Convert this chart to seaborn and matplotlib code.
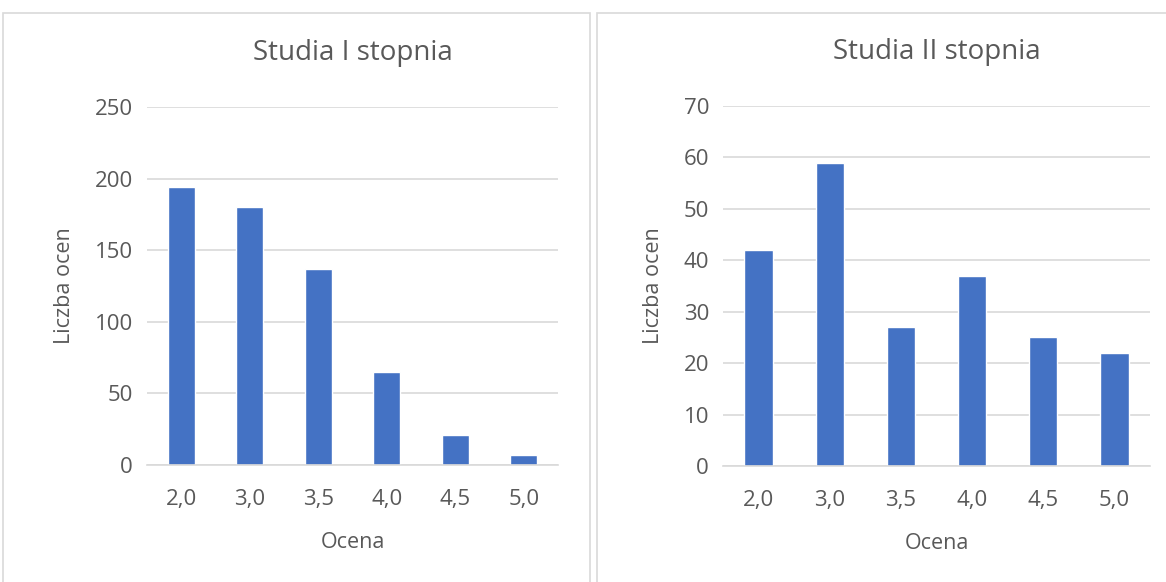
import matplotlib
matplotlib.use("Agg")
import matplotlib.pyplot as plt
import seaborn as sns
from matplotlib.patches import Rectangle

grades = ["2,0", "3,0", "3,5", "4,0", "4,5", "5,0"]
first_deg = [194, 180, 137, 65, 21, 7]
second_deg = [42, 59, 27, 37, 25, 22]
titles = ["Studia I stopnia", "Studia II stopnia"]

sns.set_style("white")
plt.rcParams["font.family"] = ["Open Sans", "DejaVu Sans"]
txt = "#595959"
grid = "#d9d9d9"
blue = "#4472C4"

fig = plt.figure(figsize=(11.66, 5.82), dpi=100)

# panel frames like excel chart areas
for x0, x1 in [(3, 590), (597, 1168)]:
    fig.patches.append(Rectangle((x0 / 1166, -0.01), (x1 - x0) / 1166, 1 - 13 / 582 + 0.01,
                                 transform=fig.transFigure, fill=False,
                                 edgecolor=grid, lw=1.2))

ax1 = fig.add_axes([147 / 1166, 1 - 465 / 582, 411 / 1166, 358 / 582])
ax2 = fig.add_axes([723 / 1166, 1 - 466 / 582, 427 / 1166, 360 / 582])

for ax, vals, title, ymax, step in [(ax1, first_deg, titles[0], 250, 50),
                                      (ax2, second_deg, titles[1], 70, 10)]:
    sns.barplot(x=grades, y=vals, ax=ax, color=blue, width=0.4, saturation=1)
    ax.set_ylim(0, ymax)
    ax.set_yticks(range(0, ymax + 1, step))
    ax.yaxis.grid(True, color=grid, lw=1.2)
    ax.set_axisbelow(True)
    for s in ["top", "right", "left"]:
        ax.spines[s].set_visible(False)
    ax.spines["bottom"].set_color(grid)
    ax.spines["bottom"].set_linewidth(1.2)
    ax.tick_params(length=0, labelsize=16, labelcolor=txt, pad=10)
    ax.tick_params(axis="x", pad=17)
    ax.set_title(title, fontsize=20, color=txt, pad=34)
    ax.set_xlabel("Ocena", fontsize=15.5, color=txt, labelpad=16)
    ax.set_ylabel("Liczba ocen", fontsize=15.5, color=txt, labelpad=14)

fig.savefig("out.png", dpi=100)
